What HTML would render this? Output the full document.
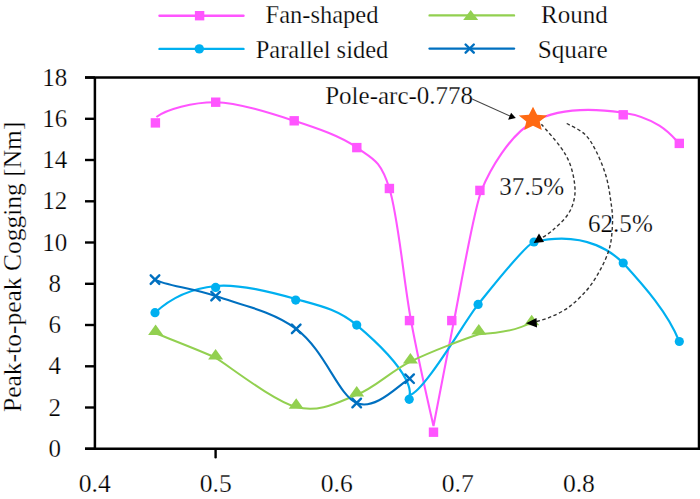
<!DOCTYPE html>
<html><head><meta charset="utf-8"><style>
html,body{margin:0;padding:0;background:#fff;}
svg{display:block;}
text{font-family:"Liberation Serif",serif;fill:#000;stroke:#fff;stroke-width:0.25px;}
</style></head><body>
<svg width="700" height="499" viewBox="0 0 700 499">
<path d="M85,77.5 H699 V448.8 H85 M94.9,77.5 V448.8" stroke="#000" stroke-width="2.5" fill="none"/>
<line x1="85" y1="448.8" x2="95" y2="448.8" stroke="#000" stroke-width="2.4"/>
<line x1="85" y1="407.5" x2="95" y2="407.5" stroke="#000" stroke-width="2.4"/>
<line x1="85" y1="366.3" x2="95" y2="366.3" stroke="#000" stroke-width="2.4"/>
<line x1="85" y1="325.0" x2="95" y2="325.0" stroke="#000" stroke-width="2.4"/>
<line x1="85" y1="283.8" x2="95" y2="283.8" stroke="#000" stroke-width="2.4"/>
<line x1="85" y1="242.5" x2="95" y2="242.5" stroke="#000" stroke-width="2.4"/>
<line x1="85" y1="201.3" x2="95" y2="201.3" stroke="#000" stroke-width="2.4"/>
<line x1="85" y1="160.0" x2="95" y2="160.0" stroke="#000" stroke-width="2.4"/>
<line x1="85" y1="118.8" x2="95" y2="118.8" stroke="#000" stroke-width="2.4"/>
<line x1="85" y1="77.5" x2="95" y2="77.5" stroke="#000" stroke-width="2.4"/>
<line x1="215.6" y1="449.5" x2="215.6" y2="457.2" stroke="#000" stroke-width="2.4" stroke-linecap="round"/>
<path d="M156.4,117.0 C166.0,109.5 193.0,102.0 215.7,102.2 C238.7,102.8 270.7,113.2 294.2,120.8 C317.7,128.4 340.9,136.3 356.8,147.6 C372.7,158.9 380.4,159.7 389.4,188.5 C398.4,217.3 403.6,281.0 411.0,320.6 C418.4,360.2 433.5,426.0 433.5,426.0 C433.5,426.0 449.2,344.2 454.0,320.6 C458.8,297.0 473.6,210.3 481.5,190.4 C489.4,170.5 509.6,135.0 533.0,122.0 C556.4,109.0 590.3,107.9 622.0,112.5 C663.5,118.6 675.5,141.3 679.3,143.4" stroke="#FF55FF" stroke-width="2.1" fill="none"/>
<path d="M155.0,312.7 C172.0,297.0 192.2,288.3 215.6,286.0 C239.0,283.7 272.2,292.5 295.7,299.0 C319.2,305.5 337.7,309.1 356.7,325.1 C417.4,376.3 409.5,395.0 409.5,395.0 C423.7,392.6 465.7,319.7 478.1,304.4 C490.6,289.1 525.5,244.4 534.0,242.0 C590.2,229.0 618.0,258.1 623.2,263.0 C645.0,287.0 668.0,313.0 679.3,341.5" stroke="#00B0F0" stroke-width="2.2" fill="none"/>
<path d="M155.6,333.3 C165.6,337.4 206.2,353.0 215.6,357.9 C225.0,362.8 272.7,400.9 296.2,407.0 C319.7,413.1 337.7,402.4 356.7,394.8 C375.7,387.2 390.0,371.7 410.4,361.6 C430.8,351.5 466.7,338.1 478.8,334.2 C497.0,333.2 518.0,330.2 531.0,322.5" stroke="#92D050" stroke-width="2.0" fill="none"/>
<path d="M155.0,279.6 C165.0,285.5 192.1,287.9 215.6,296.1 C239.1,304.3 272.7,311.1 296.2,328.9 C325.6,351.2 337.8,394.7 356.7,403.0 C375.6,411.3 400.8,382.8 409.6,378.7" stroke="#0070C0" stroke-width="2.1" fill="none"/>
<rect x="150.7" y="118.2" width="9.4" height="9.4" fill="#FF55FF"/>
<rect x="211.0" y="97.5" width="9.4" height="9.4" fill="#FF55FF"/>
<rect x="289.5" y="116.1" width="9.4" height="9.4" fill="#FF55FF"/>
<rect x="352.1" y="142.9" width="9.4" height="9.4" fill="#FF55FF"/>
<rect x="384.7" y="183.8" width="9.4" height="9.4" fill="#FF55FF"/>
<rect x="404.8" y="315.9" width="9.4" height="9.4" fill="#FF55FF"/>
<rect x="428.8" y="427.5" width="9.4" height="9.4" fill="#FF55FF"/>
<rect x="447.1" y="315.9" width="9.4" height="9.4" fill="#FF55FF"/>
<rect x="475.2" y="185.7" width="9.4" height="9.4" fill="#FF55FF"/>
<rect x="618.5" y="110.1" width="9.4" height="9.4" fill="#FF55FF"/>
<rect x="674.6" y="138.7" width="9.4" height="9.4" fill="#FF55FF"/>
<circle cx="155.0" cy="312.7" r="4.6" fill="#00B0F0"/>
<circle cx="215.6" cy="287.4" r="4.6" fill="#00B0F0"/>
<circle cx="295.7" cy="300.1" r="4.6" fill="#00B0F0"/>
<circle cx="356.7" cy="325.1" r="4.6" fill="#00B0F0"/>
<circle cx="409.2" cy="399.3" r="4.6" fill="#00B0F0"/>
<circle cx="478.1" cy="304.4" r="4.6" fill="#00B0F0"/>
<circle cx="534.0" cy="242.0" r="4.6" fill="#00B0F0"/>
<circle cx="623.2" cy="263.0" r="4.6" fill="#00B0F0"/>
<circle cx="679.3" cy="341.5" r="4.6" fill="#00B0F0"/>
<path d="M155.6,324.6 L163.1,335.1 L148.1,335.1Z" fill="#92D050"/>
<path d="M215.6,349.1 L223.1,359.6 L208.1,359.6Z" fill="#92D050"/>
<path d="M296.2,398.2 L303.7,408.8 L288.7,408.8Z" fill="#92D050"/>
<path d="M356.7,386.1 L364.2,396.6 L349.2,396.6Z" fill="#92D050"/>
<path d="M410.4,352.9 L417.9,363.4 L402.9,363.4Z" fill="#92D050"/>
<path d="M478.8,323.9 L486.3,334.4 L471.3,334.4Z" fill="#92D050"/>
<path d="M531.7,314.8 L539.2,325.2 L524.2,325.2Z" fill="#92D050"/>
<path d="M150.7,275.3 L159.3,283.9 M159.3,275.3 L150.7,283.9" stroke="#0070C0" stroke-width="2.4" stroke-linecap="round" fill="none"/>
<path d="M211.3,291.8 L219.9,300.4 M219.9,291.8 L211.3,300.4" stroke="#0070C0" stroke-width="2.4" stroke-linecap="round" fill="none"/>
<path d="M291.9,324.6 L300.5,333.2 M300.5,324.6 L291.9,333.2" stroke="#0070C0" stroke-width="2.4" stroke-linecap="round" fill="none"/>
<path d="M352.4,398.7 L361.0,407.3 M361.0,398.7 L352.4,407.3" stroke="#0070C0" stroke-width="2.4" stroke-linecap="round" fill="none"/>
<path d="M405.3,374.4 L413.9,383.0 M413.9,374.4 L405.3,383.0" stroke="#0070C0" stroke-width="2.4" stroke-linecap="round" fill="none"/>
<path d="M533.0,106.7 L537.1,114.7 L547.2,115.6 L539.7,121.5 L541.8,130.0 L533.0,125.7 L524.2,130.0 L526.3,121.5 L518.8,115.6 L528.9,114.7Z" fill="#FF6A13"/>
<line x1="159.5" y1="15.7" x2="243.5" y2="15.7" stroke="#FF55FF" stroke-width="2.4" stroke-linecap="round"/><rect x="194.9" y="11.0" width="9.4" height="9.4" fill="#FF55FF"/>
<line x1="159.5" y1="48.9" x2="243.5" y2="48.9" stroke="#00B0F0" stroke-width="2.4" stroke-linecap="round"/><circle cx="199.3" cy="48.9" r="4.7" fill="#00B0F0"/>
<line x1="429.6" y1="15.4" x2="514" y2="15.4" stroke="#92D050" stroke-width="2.4" stroke-linecap="round"/><path d="M470.7,10.0 L478.2,20.0 L463.2,20.0Z" fill="#92D050"/>
<line x1="429.6" y1="48.6" x2="514" y2="48.6" stroke="#0070C0" stroke-width="2.4" stroke-linecap="round"/><path d="M465.6,44.5 L473.8,52.7 M473.8,44.5 L465.6,52.7" stroke="#0070C0" stroke-width="2.4" stroke-linecap="round" fill="none"/>
<path d="M541.4,124.2 C544.5,127.9 555.3,139.8 560.0,146.3 C564.7,152.8 567.2,157.0 569.6,163.0 C572.0,169.0 573.6,176.3 574.4,182.3 C575.2,188.3 575.4,193.6 574.2,199.0 C573.1,204.4 571.2,209.7 567.5,215.0 C563.8,220.3 556.9,226.7 552.0,230.9 C547.1,235.1 540.3,238.5 538.0,240.0" stroke="#333" stroke-width="1.4" stroke-dasharray="3.5,2.5" fill="none"/>
<path d="M533.6,242.9 L539,233.5 L544,242 Z" fill="#000"/>
<path d="M566.7,123.5 C569.7,125.2 579.6,129.4 584.5,134.0 C589.4,138.6 592.5,144.2 596.0,151.0 C599.5,157.8 603.3,167.0 605.7,175.0 C608.1,183.0 609.4,191.0 610.5,199.0 C611.6,207.0 612.9,214.2 612.5,223.0 C612.1,231.8 611.8,241.8 608.3,252.0 C604.8,262.2 597.9,275.1 591.5,284.1 C585.1,293.1 577.0,300.6 570.1,306.1 C563.2,311.6 556.2,314.5 550.0,317.2 C543.8,319.9 535.8,321.6 533.0,322.5" stroke="#333" stroke-width="1.4" stroke-dasharray="3.5,2.5" fill="none"/>
<path d="M526,323.2 L536.5,318 L537,327.5 Z" fill="#000"/>
<line x1="471" y1="98.5" x2="510" y2="116" stroke="#444" stroke-width="1.05"/>
<path d="M515.8,117.9 L511.1,112.8 L508.1,119.8 Z" fill="#000"/>
<text x="54.8" y="456.9" font-size="25" text-anchor="middle" >0</text>
<text x="54.8" y="415.6" font-size="25" text-anchor="middle" >2</text>
<text x="54.8" y="374.4" font-size="25" text-anchor="middle" >4</text>
<text x="54.8" y="333.1" font-size="25" text-anchor="middle" >6</text>
<text x="54.8" y="291.9" font-size="25" text-anchor="middle" >8</text>
<text x="54.8" y="250.6" font-size="25" text-anchor="middle" >10</text>
<text x="54.8" y="209.4" font-size="25" text-anchor="middle" >12</text>
<text x="54.8" y="168.1" font-size="25" text-anchor="middle" >14</text>
<text x="54.8" y="126.9" font-size="25" text-anchor="middle" >16</text>
<text x="54.8" y="85.6" font-size="25" text-anchor="middle" >18</text>
<text x="94.7" y="491.5" font-size="25.6" text-anchor="middle" >0.4</text>
<text x="215.8" y="491.5" font-size="25.6" text-anchor="middle" >0.5</text>
<text x="336.8" y="491.5" font-size="25.6" text-anchor="middle" >0.6</text>
<text x="457.8" y="491.5" font-size="25.6" text-anchor="middle" >0.7</text>
<text x="578.9" y="491.5" font-size="25.6" text-anchor="middle" >0.8</text>
<text x="322" y="22.9" font-size="24.5" text-anchor="middle" >Fan-shaped</text>
<text x="322" y="57.9" font-size="24.5" text-anchor="middle" >Parallel sided</text>
<text x="574.3" y="22.9" font-size="25" text-anchor="middle" >Round</text>
<text x="572.7" y="58.3" font-size="25.2" text-anchor="middle" >Square</text>
<text x="325.2" y="103.6" font-size="25" text-anchor="start" >Pole-arc-0.778</text>
<text x="499.3" y="195" font-size="25.1" text-anchor="start" >37.5%</text>
<text x="588" y="231.9" font-size="25.1" text-anchor="start" >62.5%</text>
<text x="0" y="0" font-size="25.5" text-anchor="middle" transform="translate(21.2,266.8) rotate(-90)">Peak-to-peak Cogging [Nm]</text>
</svg></body></html>
